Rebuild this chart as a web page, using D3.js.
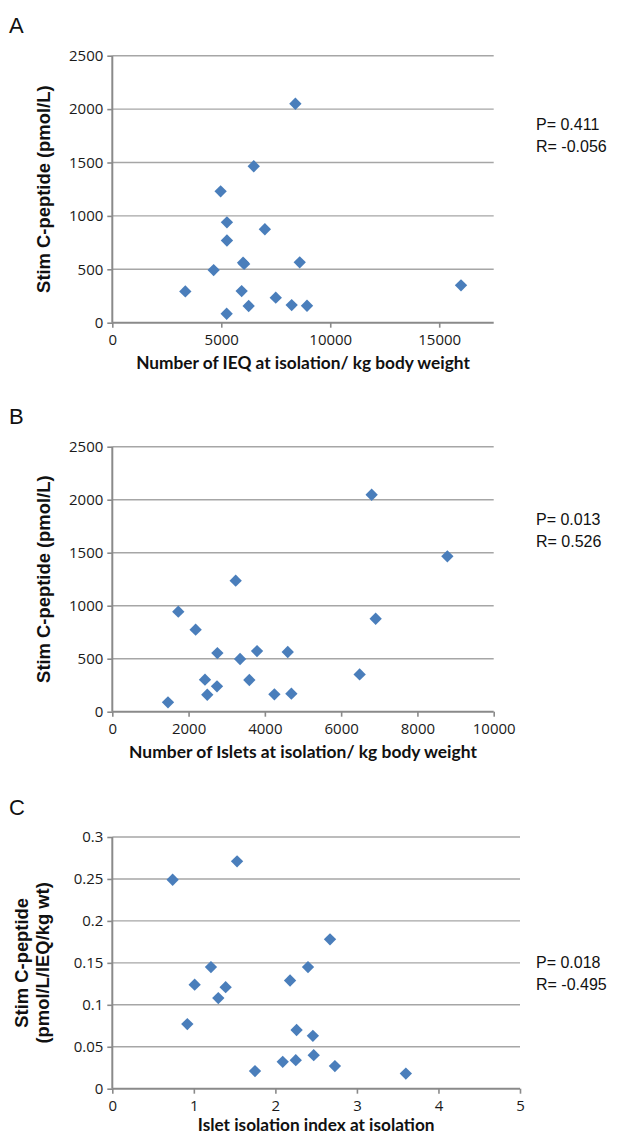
<!DOCTYPE html>
<html>
<head>
<meta charset="utf-8">
<script src="https://cdn.jsdelivr.net/npm/d3@7"></script>
<style>
html,body{margin:0;padding:0;background:#fff;}
svg{display:block;}
</style>
</head>
<body>
<script>
// ---------- DATA ----------
const ieqA   = [8400, 6490, 4970, 5260, 7000, 5260, 6000, 6050, 8600, 4650, 16000, 3350, 5935, 7500, 6257, 8230, 8934, 5247];
const cpepA  = [2050, 1465, 1230, 940, 875, 770, 562, 550, 565, 493, 350, 293, 296, 234, 156, 165, 159, 84];

const isletsB = [6800, 8785, 3235, 1730, 6905, 2185, 2755, 3795, 4600, 3350, 6485, 2430, 3593, 2745, 2490, 4250, 4695, 1460];
const cpepB   = [2047, 1466, 1236, 944, 877, 774, 553, 572, 563, 497, 352, 302, 299, 239, 160, 164, 170, 88];

const indexC = [1.53, 0.74, 2.67, 1.21, 2.40, 2.18, 1.01, 1.39, 1.30, 0.92, 2.26, 2.46, 2.47, 2.25, 2.09, 2.73, 1.75, 3.60];
const normC  = [0.271, 0.249, 0.178, 0.145, 0.145, 0.129, 0.124, 0.121, 0.108, 0.077, 0.070, 0.063, 0.040, 0.034, 0.032, 0.027, 0.021, 0.018];

const xTicksA = [0, 5000, 10000, 15000];
const xTicksB = [0, 2000, 4000, 6000, 8000, 10000];
const xTicksC = [0, 1, 2, 3, 4, 5];
const yTicksAB = [0, 500, 1000, 1500, 2000, 2500];
const yTicksC = [0, 0.05, 0.1, 0.15, 0.2, 0.25, 0.3];

const panelLetters = ["A", "B", "C"];
const xTitles = ["Number of IEQ at isolation/ kg body weight", "Number of Islets at isolation/ kg body weight", "Islet isolation index at isolation"];
const yTitles = [["Stim C-peptide (pmol/L)"], ["Stim C-peptide (pmol/L)"], ["Stim C-peptide", "(pmol/L/IEQ/kg wt)"]];
const statsP = ["P= 0.411", "P= 0.013", "P= 0.018"];
const statsR = ["R= -0.056", "R= 0.526", "R= -0.495"];

// ---------- LAYOUT ----------
const W = 621, H = 1136;
const panels = [
  {x: ieqA, y: cpepA, xDom: [0, 17500], yDom: [0, 2500], xTicks: xTicksA, yTicks: yTicksAB,
   left: 112.3, right: 493.7, top: 55.7, bottom: 322.7, statY: 130, xTitleW: 334, xTitleDy: 46, yTitleX: [43]},
  {x: isletsB, y: cpepB, xDom: [0, 10000], yDom: [0, 2500], xTicks: xTicksB, yTicks: yTicksAB,
   left: 112.3, right: 493.7, top: 446.7, bottom: 711.7, statY: 525, xTitleW: 348, xTitleDy: 46, yTitleX: [43]},
  {x: indexC, y: normC, xDom: [0, 5], yDom: [0, 0.3], xTicks: xTicksC, yTicks: yTicksC,
   left: 112.3, right: 520, top: 837, bottom: 1088.7, statY: 968, xTitleW: 237, xTitleDy: 42, yTitleX: [21, 42]}
];

const svg = d3.select("body").append("svg").attr("width", W).attr("height", H);

const gridColor = "#a6a6a6", axisColor = "#8a8a8a", markColor = "#4a7ebb";
const tickFont = "'Open Sans', sans-serif";
const arialFont = "'Liberation Sans', Arial, sans-serif";

panels.forEach((p, i) => {
  const g = svg.append("g");
  const xs = d3.scaleLinear().domain(p.xDom).range([p.left, p.right]);
  const ys = d3.scaleLinear().domain(p.yDom).range([p.bottom, p.top]);

  // gridlines
  g.selectAll(".grid").data(p.yTicks.filter(d => d !== 0)).enter().append("line")
    .attr("x1", p.left).attr("x2", p.right)
    .attr("y1", d => ys(d)).attr("y2", d => ys(d))
    .attr("stroke", gridColor).attr("stroke-width", 1.4);

  // y axis
  const yAxis = d3.axisLeft(ys).tickValues(p.yTicks).tickSize(5).tickPadding(4)
    .tickFormat(d => String(+d.toFixed(4)));
  const ya = g.append("g").attr("transform", `translate(${p.left},0)`).call(yAxis);
  ya.select(".domain").attr("stroke", axisColor).attr("stroke-width", 2).attr("d", `M0,${p.bottom}V${p.top}`);
  ya.selectAll(".tick line").attr("stroke", axisColor).attr("stroke-width", 1.6);
  ya.selectAll(".tick text").attr("font-family", tickFont).attr("font-size", 15).attr("fill", "#1a1a1a");

  // x axis
  const xAxis = d3.axisBottom(xs).tickValues(p.xTicks).tickSize(5).tickPadding(7)
    .tickFormat(d => String(d));
  const xa = g.append("g").attr("transform", `translate(0,${p.bottom})`).call(xAxis);
  xa.select(".domain").attr("stroke", axisColor).attr("stroke-width", 2).attr("d", `M${p.left},0H${p.right}`);
  xa.selectAll(".tick line").attr("stroke", axisColor).attr("stroke-width", 1.6);
  xa.selectAll(".tick text").attr("font-family", tickFont).attr("font-size", 15).attr("fill", "#1a1a1a");

  // markers
  const sym = d3.symbol().type(d3.symbolSquare).size(76);
  g.selectAll(".pt").data(p.x.map((v, k) => [v, p.y[k]])).enter().append("path")
    .attr("d", sym)
    .attr("transform", d => `translate(${xs(d[0])},${ys(d[1])}) rotate(45)`)
    .attr("fill", markColor);

  // panel letter
  svg.append("text").attr("x", 9).attr("y", p.top - 22.5)
    .attr("font-family", arialFont).attr("font-size", 22).attr("fill", "#111")
    .text(panelLetters[i]);

  // x title
  const xt = svg.append("text").attr("x", (p.left + p.right) / 2).attr("y", p.bottom + p.xTitleDy)
    .attr("text-anchor", "middle").attr("font-family", "Lato, 'Open Sans', sans-serif")
    .attr("font-weight", "bold").attr("font-size", 17).attr("fill", "#111")
    .text(xTitles[i]);
  const w0 = xt.node().getComputedTextLength();
  if (w0 > 0) xt.attr("font-size", 17 * p.xTitleW / w0);

  // y title
  const cy = (p.top + p.bottom) / 2;
  yTitles[i].forEach((t, j) => {
    svg.append("text")
      .attr("transform", `translate(${p.yTitleX[j] + 6.5},${cy}) rotate(-90)`)
      .attr("text-anchor", "middle").attr("font-family", arialFont)
      .attr("font-weight", "bold").attr("font-size", 18.4).attr("fill", "#111")
      .text(t);
  });

  // stats
  svg.append("text").attr("x", 536).attr("y", p.statY)
    .attr("font-family", arialFont).attr("font-size", 16).attr("fill", "#111").text(statsP[i]);
  svg.append("text").attr("x", 536).attr("y", p.statY + 21.5)
    .attr("font-family", arialFont).attr("font-size", 16).attr("fill", "#111").text(statsR[i]);
});
</script>
</body>
</html>
